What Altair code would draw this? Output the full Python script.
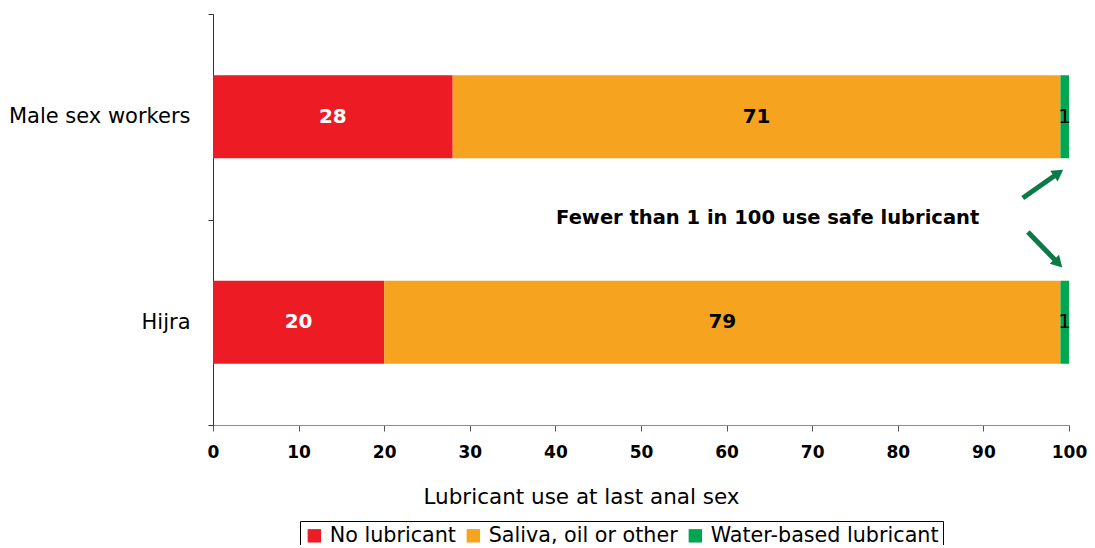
import altair as alt
import pandas as pd

groups = ["Male sex workers", "Hijra"]
categories = ["No lubricant", "Saliva, oil or other", "Water-based lubricant"]
no_lub = [28, 20]
saliva = [71, 79]
water = [1, 1]
colors = ["#ED1C24", "#F6A31F", "#00A650"]

rows = []
for gi, g in enumerate(groups):
    for ci, (c, vals) in enumerate(zip(categories, [no_lub, saliva, water])):
        rows.append({"group": g, "cat": c, "value": vals[gi], "ord": ci,
                     "tcolor": "white" if ci == 0 else "black",
                     "bold": ci < 2})
df = pd.DataFrame(rows)

# annotation (x in data units, y in plot pixels)
note_text = ["Fewer than 1 in 100 use safe lubricant"]
note_x = [64.8]
note_y = [204]
arrow_x0 = [94.6, 95.2]
arrow_x1 = [98.6, 98.6]
arrow_y0 = [184, 218]
arrow_y1 = [160, 248]
arrow_ang = [55, 136]

FONT = "DejaVu Sans"

xscale = alt.Scale(domain=[0, 100], nice=False)
yscale = alt.Scale(domain=groups, paddingInner=0, paddingOuter=0)

base = alt.Chart(df).transform_stack(
    stack="value", groupby=["group"], as_=["x0", "x1"],
    sort=[alt.SortField("ord", order="ascending")]
).transform_calculate(mid="(datum.x0 + datum.x1) / 2")

yenc = alt.Y("group:N", sort=groups, scale=yscale,
             axis=alt.Axis(title=None, tickBand="extent", labelFont=FONT, labelFontSize=21,
                           labelColor="black", domainColor="#333333", tickColor="#333333",
                           tickSize=5, labelPadding=18, grid=False, labelLimit=0))

bars = base.mark_bar(height=alt.RelativeBandSize(0.404)).encode(
    x=alt.X("x0:Q", scale=xscale,
            axis=alt.Axis(values=list(range(0, 101, 10)), title="Lubricant use at last anal sex",
                          titleFont=FONT, titleFontSize=21.5, titleFontWeight="normal",
                          titleColor="black", titleX=368, titleAlign="center",
                          titleY=72, titleBaseline="middle",
                          labelFlush=False,
                          labelFont=FONT, labelFontSize=17, labelFontWeight="bold",
                          labelColor="black", labelPadding=13, domainColor="#6E9E84",
                          tickColor="#555555", tickSize=6, grid=False)),
    x2="x1:Q",
    y=yenc,
    color=alt.Color("cat:N", sort=categories,
                    scale=alt.Scale(domain=categories, range=colors),
                    legend=alt.Legend(title=None, orient="none", direction="horizontal",
                                      legendX=87, legendY=507, labelFont=FONT, labelFontSize=20.7,
                                      labelColor="black", symbolType="square", symbolSize=180,
                                      symbolStrokeWidth=0, columnPadding=7, labelOffset=5,
                                      strokeColor="black", padding=4, labelLimit=0)),
)

labels_bold = base.transform_filter("datum.bold").mark_text(
    font=FONT, fontSize=20, fontWeight="bold", align="center", baseline="middle"
).encode(
    x=alt.X("mid:Q", scale=xscale), y=alt.Y("group:N", sort=groups, scale=yscale),
    text="value:Q", color=alt.Color("tcolor:N", scale=None))

labels_norm = base.transform_filter("!datum.bold").mark_text(
    font=FONT, fontSize=20, align="center", baseline="middle"
).encode(
    x=alt.X("mid:Q", scale=xscale), y=alt.Y("group:N", sort=groups, scale=yscale),
    text="value:Q", color=alt.value("black"))

note = alt.Chart(pd.DataFrame({"t": note_text, "x": note_x, "y": note_y})).mark_text(
    font=FONT, fontSize=19.5, fontWeight="bold", align="center", baseline="middle", color="black"
).encode(x=alt.X("x:Q", scale=xscale), y=alt.Y("y:Q", scale=None, axis=None), text="t:N")

adf = pd.DataFrame({"x0": arrow_x0, "x1": arrow_x1, "y0": arrow_y0, "y1": arrow_y1, "ang": arrow_ang})
shafts = alt.Chart(adf).mark_rule(color="#0B7A47", strokeWidth=5).encode(
    x=alt.X("x0:Q", scale=xscale), x2="x1:Q",
    y=alt.Y("y0:Q", scale=None, axis=None), y2="y1:Q")
heads = alt.Chart(adf).mark_point(shape="triangle", filled=True, color="#0B7A47", size=170, opacity=1).encode(
    x=alt.X("x1:Q", scale=xscale), y=alt.Y("y1:Q", scale=None, axis=None),
    angle=alt.Angle("ang:Q", scale=None))

chart = alt.layer(bars, labels_bold, labels_norm, note, shafts, heads).properties(
    width=856, height=411,
    autosize=alt.AutoSizeParams(type="none"),
    padding={"left": 205, "top": 6, "right": 18, "bottom": 120},
).configure(background="white").configure_view(stroke=None)

chart.save("out.html", embed_options={"renderer": "svg", "actions": False})
